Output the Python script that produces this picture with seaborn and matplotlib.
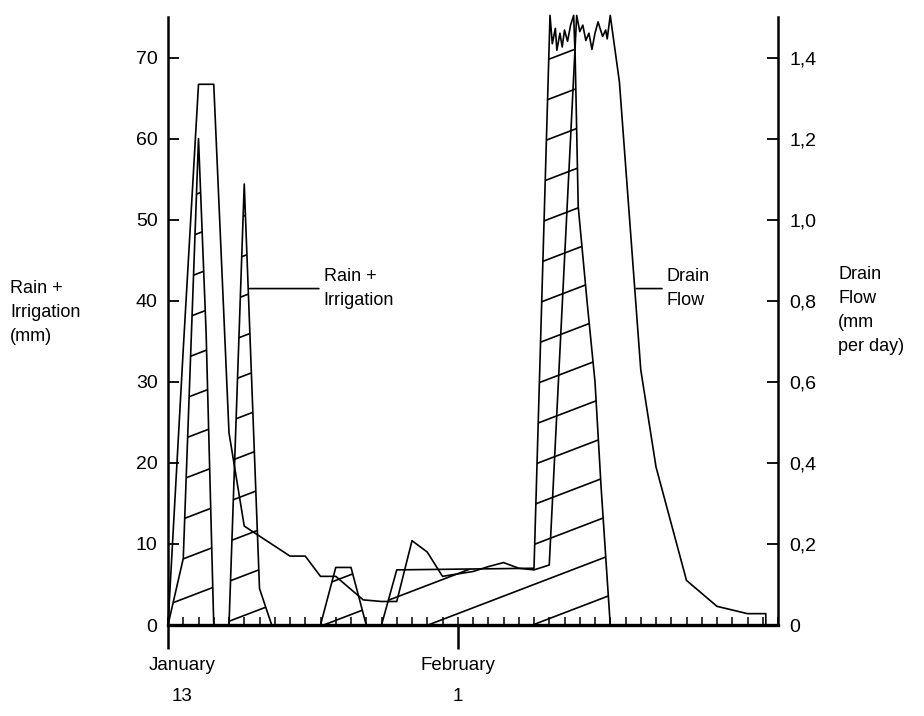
import numpy as np
import pandas as pd
import seaborn as sns
import matplotlib.pyplot as plt
from matplotlib.ticker import MultipleLocator

# days counted from January 13
rain_day = [0, 1, 2, 2.5, 3, 4, 5, 6, 6.8, 10, 11, 12, 13, 14, 15, 24,
            25.05, 25.2, 25.4, 25.5, 25.7, 25.85, 26.0, 26.2, 26.4, 26.6,
            26.7, 26.9, 27.5, 28.0, 28.4, 29.0]
rain_mm = [0, 8.2, 60, 36, 0, 0, 54.4, 4.5, 0, 0, 7.1, 7.1, 0, 0, 6.8, 7.0,
           75.2, 71.7, 73.6, 70.9, 73.0, 71.3, 73.4, 72.0, 74.0, 75.2,
           70.1, 51.6, 39.5, 30, 17, 0]

drain_day = [0, 1, 2, 3, 4, 5, 8, 9, 10, 11, 12.8, 14, 15, 16, 17, 18, 19,
             20, 21, 22, 23, 24, 25, 26.8, 27.0, 27.2, 27.4, 27.6, 27.8,
             28.0, 28.2, 28.5, 28.7, 28.8, 29.0, 29.6, 31, 32, 34, 36, 38,
             39.2, 39.2]
drain_flow = [0, 0.68, 1.334, 1.334, 0.474, 0.244, 0.17, 0.17, 0.12, 0.12,
              0.062, 0.058, 0.058, 0.208, 0.18, 0.12, 0.126, 0.132, 0.144,
              0.154, 0.14, 0.136, 0.148, 1.504, 1.464, 1.48, 1.442, 1.46,
              1.42, 1.46, 1.488, 1.452, 1.468, 1.446, 1.504, 1.34, 0.63,
              0.39, 0.11, 0.046, 0.028, 0.028, 0]

left_ticks = [0, 10, 20, 30, 40, 50, 60, 70]
right_ticks = [0, 0.2, 0.4, 0.6, 0.8, 1.0, 1.2, 1.4]
right_labels = ['0', '0,2', '0,4', '0,6', '0,8', '1,0', '1,2', '1,4']
date_pos = [0, 19]
month_labels = ['January', 'February']
day_labels = ['13', '1']

sns.set_style('ticks', {'axes.edgecolor': 'black', 'text.color': 'black',
                        'xtick.color': 'black', 'ytick.color': 'black'})
plt.rcParams['font.family'] = ['Liberation Sans', 'DejaVu Sans']

rain_df = pd.DataFrame({'day': rain_day, 'mm': rain_mm})
drain_df = pd.DataFrame({'day': drain_day, 'flow': drain_flow})

fig = plt.figure(figsize=(9.24, 7.16), dpi=100)
ax = fig.add_axes([168 / 924, 1 - 625 / 716, 610 / 924, 608 / 716])
ax2 = ax.twinx()

# rain + irrigation with slanted hatching
sns.lineplot(data=rain_df, x='day', y='mm', ax=ax, sort=False,
             estimator=None, color='black', lw=1.2, clip_on=False)
poly = ax.fill_between(rain_df['day'], rain_df['mm'], color='none', lw=0)
clip = poly.get_paths()[0]
slope, gap, phase = 0.72, 4.93, 0.4
xs = np.array([0, 40])
for c in np.arange(phase - slope * 45, 80, gap):
    ln, = ax.plot(xs, slope * xs + c, color='black', lw=1.2)
    ln.set_clip_path(clip, ax.transData)

# drain flow on right axis
sns.lineplot(data=drain_df, x='day', y='flow', ax=ax2, sort=False,
             estimator=None, color='black', lw=1.2, clip_on=False)

ax.set_xlim(0, 40)
ax.set_ylim(0, 75)
ax2.set_ylim(0, 1.5)
for a in (ax, ax2):
    a.set_xlabel('')
    a.set_ylabel('')

ax.spines['top'].set_visible(False)
ax.spines['right'].set_visible(False)
ax.spines['left'].set_linewidth(1.8)
ax.spines['bottom'].set_linewidth(2.4)
for s in ('top', 'left', 'bottom'):
    ax2.spines[s].set_visible(False)
ax2.spines['right'].set_linewidth(1.8)

ax.set_yticks(left_ticks)
ax.tick_params(axis='y', direction='in', length=8, width=1.3, pad=7.5,
               labelsize=14, left=True)
ax2.set_yticks(right_ticks)
ax2.set_yticklabels(right_labels)
ax2.tick_params(axis='y', direction='in', length=8, width=1.3, pad=8,
                labelsize=14, right=True)

ax.set_xticks(date_pos)
ax.set_xticklabels([])
ax.xaxis.set_minor_locator(MultipleLocator(1))
ax.xaxis.remove_overlapping_locs = False
ax.tick_params(axis='x', which='major', direction='out', length=17, width=1.8)
ax.tick_params(axis='x', which='minor', direction='in', length=6, width=1.1,
               bottom=True)

xt = ax.get_xaxis_transform()
for p, m, d in zip(date_pos, month_labels, day_labels):
    off = 0.9 if p == 0 else 0
    ax.text(p + off, -0.066, m, transform=xt, ha='center', va='center',
            fontsize=13.5)
    ax.text(p + off, -0.118, d, transform=xt, ha='center', va='center',
            fontsize=13.5)

ann = dict(arrowstyle='-', lw=1.2, color='black', shrinkA=1, shrinkB=0)
ax.annotate('Rain +\nIrrigation', xy=(5.35, 41.5), xytext=(10.2, 41.5),
            ha='left', va='center', fontsize=13, linespacing=1.55,
            arrowprops=ann)
ax.annotate('Drain\nFlow', xy=(30.7, 41.5), xytext=(32.7, 41.5),
            ha='left', va='center', fontsize=13, linespacing=1.55,
            arrowprops=ann)

fig.text(10 / 924, 1 - 280 / 716, 'Rain +\nIrrigation\n(mm)', ha='left',
         va='top', fontsize=13, linespacing=1.55)
fig.text(838 / 924, 1 - 266 / 716, 'Drain\nFlow\n(mm\nper day)', ha='left',
         va='top', fontsize=13, linespacing=1.55)

fig.savefig('out.png', dpi=100)
